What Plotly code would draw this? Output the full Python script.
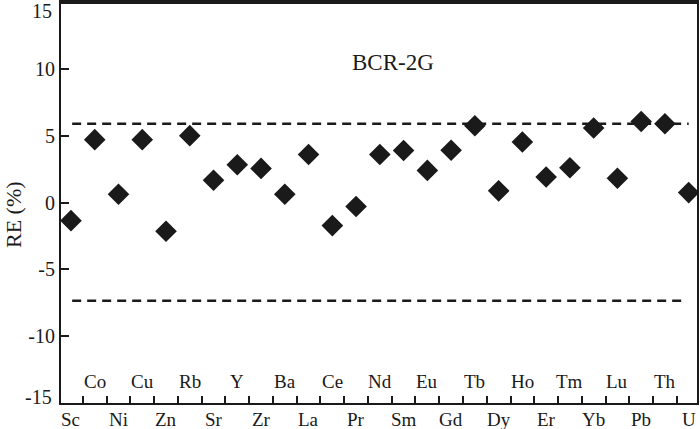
import plotly.graph_objects as go

elements = ["Sc", "Co", "Ni", "Cu", "Zn", "Rb", "Sr", "Y", "Zr", "Ba", "La", "Ce", "Pr", "Nd",
            "Sm", "Eu", "Gd", "Tb", "Dy", "Ho", "Er", "Tm", "Yb", "Lu", "Pb", "Th", "U"]
re_values = [-1.36, 4.70, 0.62, 4.70, -2.15, 5.00, 1.66, 2.82, 2.55, 0.62, 3.59, -1.73, -0.30, 3.59,
             3.89, 2.40, 3.91, 5.74, 0.87, 4.53, 1.91, 2.60, 5.57, 1.81, 6.06, 5.89, 0.74]
upper_limit = 5.9
lower_limit = -7.35
y_ticks = [-15, -10, -5, 0, 5, 10, 15]
y_tick_labels = ["-15", "-10", "-5", "0", "5", "10", "15"]
title_text = "BCR-2G"

FONT = "Liberation Serif"
INK = "#1a1a1a"

W, H = 700, 429
ML, MR, MT, MB = 61, 3, 2, 26
plot_w = W - ML - MR
plot_h = H - MT - MB


def py(ypix):
    return (H - MB - ypix) / plot_h


def px(xpix):
    return (xpix - ML) / plot_w


idx = list(range(len(elements)))

fig = go.Figure()

fig.add_trace(go.Scatter(
    x=[0.05, len(elements) - 1], y=[upper_limit, upper_limit], mode="lines",
    line=dict(color=INK, width=2.5, dash="9px,6px"), hoverinfo="skip", showlegend=False))
fig.add_trace(go.Scatter(
    x=[0.05, len(elements) - 1.2], y=[lower_limit, lower_limit], mode="lines",
    line=dict(color=INK, width=2.5, dash="9px,6px"), hoverinfo="skip", showlegend=False))

fig.add_trace(go.Scatter(
    x=idx, y=re_values, mode="markers",
    marker=dict(symbol="diamond", size=15, color=INK, line=dict(color=INK, width=1.5)),
    showlegend=False))

annotations = []
for i, el in enumerate(elements):
    ypix = 420 if i % 2 == 0 else 381
    annotations.append(dict(x=i, y=py(ypix), xref="x", yref="paper", text=el,
                            showarrow=False, font=dict(family=FONT, size=19, color=INK),
                            yanchor="middle"))

# end tick labels of the y axis, nudged inside the figure as in the reference
for val, lab, ypix in [(y_ticks[-1], y_tick_labels[-1], 11), (y_ticks[0], y_tick_labels[0], 397)]:
    annotations.append(dict(x=px(54), y=py(ypix), xref="paper", yref="paper", text=lab,
                            showarrow=False, xanchor="right", yanchor="middle",
                            font=dict(family=FONT, size=20, color=INK)))

annotations.append(dict(x=px(393), y=py(62), xref="paper", yref="paper",
                        text=title_text, showarrow=False,
                        font=dict(family=FONT, size=23, color=INK), yanchor="middle"))
annotations.append(dict(x=px(13), y=py(215), xref="paper", yref="paper",
                        text="RE (%)", showarrow=False, textangle=-90,
                        font=dict(family=FONT, size=22, color=INK), xanchor="center", yanchor="middle"))

fig.update_layout(
    width=W, height=H,
    margin=dict(l=ML, r=MR, t=MT, b=MB, autoexpand=False),
    paper_bgcolor="white", plot_bgcolor="white",
    showlegend=False,
    annotations=annotations,
    font=dict(family=FONT, color=INK),
)

fig.update_xaxes(
    range=[-0.42, 26.35],
    tickvals=[i + 0.5 for i in range(len(elements) - 1)],
    ticktext=["" for _ in range(len(elements) - 1)],
    ticks="inside", ticklen=7, tickwidth=2, tickcolor=INK,
    showline=True, linewidth=2, linecolor=INK, mirror=True,
    showgrid=False, zeroline=False, automargin=False,
)
fig.update_yaxes(
    range=[-15, 15],
    tickvals=y_ticks, ticktext=[""] + y_tick_labels[1:-1] + [""],
    ticks="inside", ticklen=8, tickwidth=2, tickcolor=INK,
    tickfont=dict(family=FONT, size=20, color=INK),
    showline=True, linewidth=2, linecolor=INK, mirror=True,
    showgrid=False, zeroline=False, automargin=False,
)

fig.add_shape(type="line", xref="paper", yref="paper", x0=0, x1=1, y0=1, y1=1,
              line=dict(color=INK, width=4))

fig.write_html("out.html", config={"displayModeBar": False},
               post_script="document.body.style.margin='0px';document.body.style.overflow='hidden';")
